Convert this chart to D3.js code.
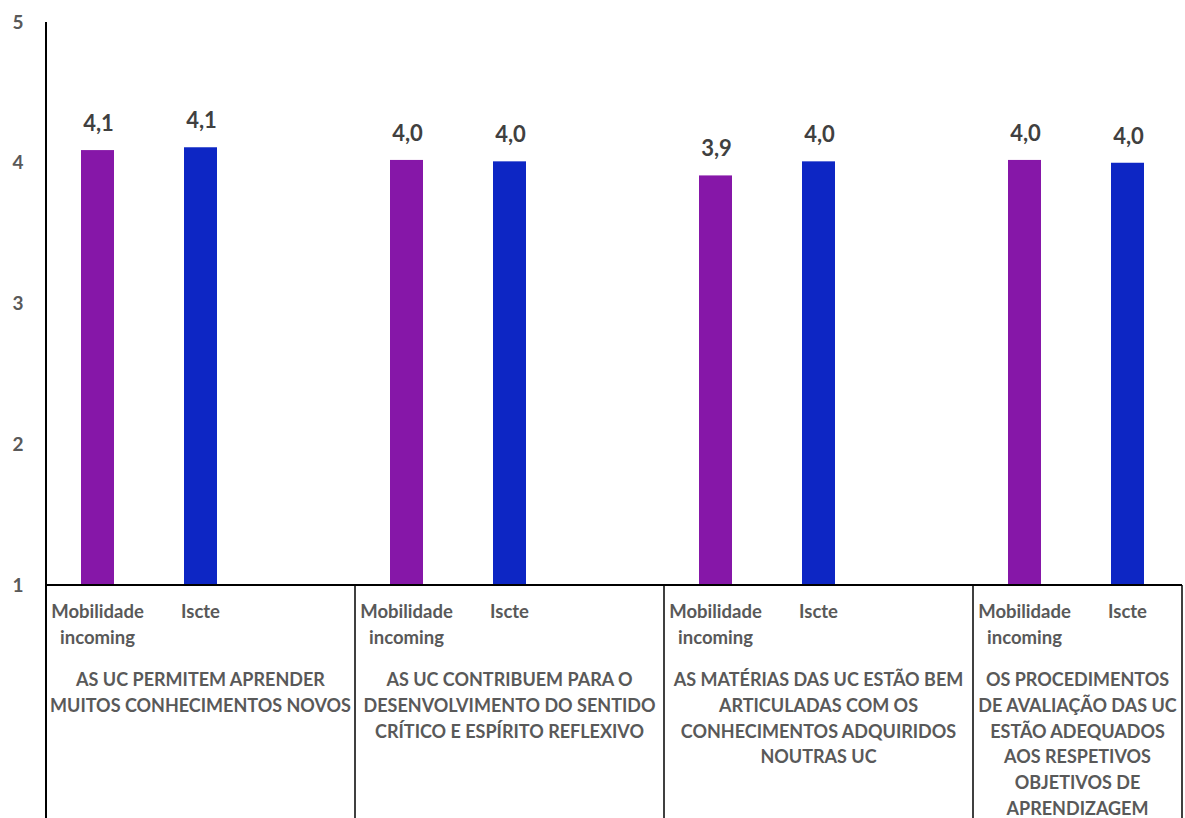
<!DOCTYPE html>
<html>
<head>
<meta charset="utf-8">
<script src="https://cdn.jsdelivr.net/npm/d3@7"></script>
<style>
  body { margin: 0; background: #fff; }
  svg { display: block; font-family: Lato, "Open Sans", sans-serif; font-weight: bold; }
</style>
</head>
<body>
<svg id="chart" width="1185" height="818"></svg>
<script>
// Data
const groups = [
  ["AS UC PERMITEM APRENDER", "MUITOS CONHECIMENTOS NOVOS"],
  ["AS UC CONTRIBUEM PARA O", "DESENVOLVIMENTO DO SENTIDO", "CRÍTICO E ESPÍRITO REFLEXIVO"],
  ["AS MATÉRIAS DAS UC ESTÃO BEM", "ARTICULADAS COM OS", "CONHECIMENTOS ADQUIRIDOS", "NOUTRAS UC"],
  ["OS PROCEDIMENTOS", "DE AVALIAÇÃO DAS UC", "ESTÃO ADEQUADOS", "AOS RESPETIVOS", "OBJETIVOS DE", "APRENDIZAGEM"]
];
const series = ["Mobilidade incoming", "Iscte"];
const seriesLines = [["Mobilidade", "incoming"], ["Iscte"]];
const mobilidade = [4.09, 4.02, 3.91, 4.02];
const iscte = [4.11, 4.01, 4.01, 4.00];
const yTicks = [1, 2, 3, 4, 5];
const colors = ["#8617a8", "#0d26c4"];

const svg = d3.select("#chart");
const plotLeft = 46, plotTop = 22, plotBottom = 585, rightEdge = 1182;

// each group has 3 slots: two bars + an empty gap
const slotW = 103;
const groupW = slotW * 3;

const y = d3.scaleLinear().domain([1, 5]).range([plotBottom, plotTop]);
const xGroup = d3.scaleBand().domain(d3.range(groups.length)).range([plotLeft, plotLeft + groupW * groups.length]);
const xSlot = d3.scaleBand().domain([0, 1, 2]).range([0, groupW]);

svg.append("defs").append("clipPath").attr("id", "clip")
  .append("rect").attr("x", 0).attr("y", 0).attr("width", rightEdge + 1).attr("height", 818);

const root = svg.append("g").attr("clip-path", "url(#clip)");

// y tick labels
root.selectAll("text.ytick")
  .data(yTicks)
  .enter()
  .append("text")
  .attr("class", "ytick")
  .attr("x", 18)
  .attr("y", d => y(d))
  .attr("dy", "0.35em")
  .attr("text-anchor", "middle")
  .attr("font-size", 19)
  .attr("fill", "#595959")
  .text(d => d);

// bars
const rows = groups.map((g, i) => [mobilidade[i], iscte[i]]);
const barW = 33;

const gGroups = root.selectAll("g.grp")
  .data(rows)
  .enter()
  .append("g")
  .attr("class", "grp")
  .attr("transform", (d, i) => `translate(${xGroup(i)},0)`);

gGroups.selectAll("rect")
  .data(d => d)
  .enter()
  .append("rect")
  .attr("x", (d, j) => xSlot(j) + (slotW - barW) / 2)
  .attr("y", d => y(d))
  .attr("width", barW)
  .attr("height", d => y(1) - y(d))
  .attr("fill", (d, j) => colors[j]);

gGroups.selectAll("text.val")
  .data(d => d)
  .enter()
  .append("text")
  .attr("class", "val")
  .attr("x", (d, j) => xSlot(j) + slotW / 2 + 1)
  .attr("y", d => y(d) - 19)
  .attr("text-anchor", "middle")
  .attr("font-size", 22)
  .attr("fill", "#404040")
  .text(d => d3.format(".1f")(d).replace(".", ","));

// series labels under each bar
gGroups.selectAll("text.ser")
  .data(seriesLines)
  .enter()
  .append("text")
  .attr("class", "ser")
  .attr("text-anchor", "middle")
  .attr("font-size", 18.5)
  .attr("fill", "#595959")
  .attr("transform", (d, j) => `translate(${xSlot(j) + slotW / 2},618)`)
  .selectAll("tspan")
  .data(d => d)
  .enter()
  .append("tspan")
  .attr("x", 0)
  .attr("y", (d, k) => k * 25.5)
  .text(d => d);

// group labels
gGroups.append("text")
  .attr("text-anchor", "middle")
  .attr("font-size", 18)
  .attr("fill", "#595959")
  .attr("transform", (d, i) => {
    const x0 = xGroup(i), x1 = Math.min(x0 + groupW, rightEdge);
    return `translate(${(x1 - x0) / 2},686)`;
  })
  .selectAll("tspan")
  .data((d, i) => groups[i])
  .enter()
  .append("tspan")
  .attr("x", 0)
  .attr("y", (d, k) => k * 25.8)
  .text(d => d);

// axis lines
root.append("line")
  .attr("x1", plotLeft).attr("x2", plotLeft)
  .attr("y1", plotTop).attr("y2", 818)
  .attr("stroke", "#000").attr("stroke-width", 2);

root.append("line")
  .attr("x1", plotLeft).attr("x2", rightEdge)
  .attr("y1", plotBottom).attr("y2", plotBottom)
  .attr("stroke", "#000").attr("stroke-width", 2);

// group separators
const seps = d3.range(1, groups.length).map(i => xGroup(i)).concat([rightEdge]);
root.selectAll("line.sep")
  .data(seps)
  .enter()
  .append("line")
  .attr("class", "sep")
  .attr("x1", d => d).attr("x2", d => d)
  .attr("y1", plotBottom).attr("y2", 818)
  .attr("stroke", "#000").attr("stroke-width", 1.5);
</script>
</body>
</html>
